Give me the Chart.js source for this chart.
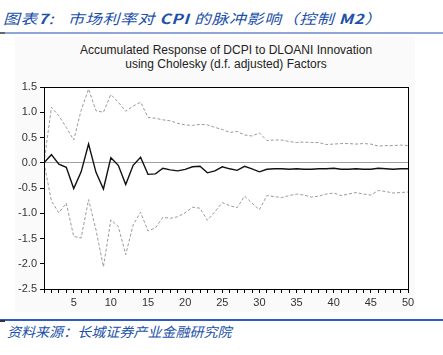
<!DOCTYPE html>
<html><head><meta charset="utf-8">
<script src="https://cdn.jsdelivr.net/npm/chart.js@4"></script>
<style>
html,body{margin:0;padding:0;background:#fff;width:443px;height:355px;overflow:hidden;}
#wrap{position:relative;width:443px;height:355px;}
canvas{position:absolute;left:0;top:0;}
.t{position:absolute;font-family:"Noto Sans CJK SC",sans-serif;font-style:italic;color:#2150a8;white-space:nowrap;transform-origin:0 0;}
.ct{position:absolute;left:0;width:452px;text-align:center;font-family:"Liberation Sans",Arial,sans-serif;font-size:12px;color:#222;}
</style></head>
<body><div id="wrap">
<div style="position:absolute;left:15px;top:37px;width:400px;height:275px;background:#fafafa;"></div>
<div class="t" style="left:3px;top:8px;font-size:14px;letter-spacing:0.6px;transform:scaleX(1.2);">图表<b>7</b>:&nbsp;&nbsp; 市场利率对 <b>CPI</b> 的脉冲影响（控制 <b>M2</b>）</div>
<div style="position:absolute;left:0;top:32px;width:443px;height:2px;background:#8fa6d6;"></div>
<div style="position:absolute;left:0;top:32px;width:5px;height:2px;background:#666;"></div>
<div class="ct" style="top:43px;">Accumulated Response of DCPI to DLOANI Innovation</div>
<div class="ct" style="top:57px;">using Cholesky (d.f. adjusted) Factors</div>
<div style="position:absolute;left:0;top:319px;width:443px;height:2px;background:#2d5bbf;"></div>
<div style="position:absolute;left:0;top:320px;width:5px;height:2px;background:#333;"></div>
<div class="t" style="left:7px;top:321px;font-size:13.5px;transform:scaleX(1.04);">资料来源：长城证券产业金融研究院</div>
<canvas id="c" width="443" height="355"></canvas>
</div>
<script>
const periods = Array.from({length:50},(_,i)=>i+1);
const response = [0.00,0.16,-0.03,-0.09,-0.51,-0.18,0.37,-0.19,-0.52,0.10,-0.05,-0.43,-0.05,0.11,-0.23,-0.22,-0.11,-0.14,-0.16,-0.13,-0.08,-0.07,-0.20,-0.16,-0.08,-0.12,-0.15,-0.07,-0.12,-0.18,-0.13,-0.12,-0.12,-0.13,-0.12,-0.13,-0.13,-0.12,-0.12,-0.11,-0.13,-0.13,-0.12,-0.13,-0.13,-0.11,-0.12,-0.13,-0.12,-0.12];
const upperBand = [0.00,1.10,0.93,0.70,0.45,1.04,1.46,1.03,1.00,1.35,1.20,1.02,1.12,1.20,0.90,0.88,0.85,0.83,0.78,0.75,0.74,0.76,0.75,0.70,0.66,0.60,0.62,0.55,0.53,0.59,0.44,0.45,0.45,0.42,0.40,0.41,0.40,0.40,0.36,0.37,0.38,0.38,0.37,0.38,0.37,0.33,0.34,0.34,0.35,0.34];
const lowerBand = [0.00,-0.76,-0.99,-0.80,-1.46,-1.49,-0.73,-1.33,-2.06,-1.13,-1.26,-1.82,-1.23,-0.98,-1.35,-1.29,-1.08,-1.10,-1.07,-0.99,-0.88,-0.90,-1.14,-0.97,-0.79,-0.85,-0.89,-0.66,-0.80,-0.93,-0.65,-0.67,-0.69,-0.65,-0.62,-0.64,-0.68,-0.66,-0.62,-0.60,-0.65,-0.62,-0.59,-0.62,-0.64,-0.55,-0.57,-0.60,-0.59,-0.58];
const yTicks = [-2.5,-2.0,-1.5,-1.0,-0.5,0.0,0.5,1.0,1.5];
const xLabels = [5,10,15,20,25,30,35,40,45,50];

const frame = {id:'frame',
  beforeDraw(ch){const a=ch.chartArea,c=ch.ctx;c.save();c.fillStyle='#fff';c.fillRect(a.left,a.top,a.right-a.left,a.bottom-a.top);c.restore();},
  afterDatasetsDraw(ch){const a=ch.chartArea,c=ch.ctx;c.save();c.strokeStyle='#000';c.lineWidth=1;c.strokeRect(Math.round(a.left)+0.5,Math.round(a.top)+0.5,Math.round(a.right-a.left),Math.round(a.bottom-a.top));c.restore();}};

new Chart(document.getElementById('c'),{
  type:'line',
  data:{datasets:[
    {data:periods.map((p,i)=>({x:p,y:upperBand[i]})),borderColor:'#9a9a9a',borderWidth:1,borderDash:[3,2],pointRadius:0,tension:0},
    {data:periods.map((p,i)=>({x:p,y:lowerBand[i]})),borderColor:'#9a9a9a',borderWidth:1,borderDash:[3,2],pointRadius:0,tension:0},
    {data:periods.map((p,i)=>({x:p,y:response[i]})),borderColor:'#111',borderWidth:1.4,pointRadius:0,tension:0}
  ]},
  options:{
    responsive:false,animation:false,
    layout:{padding:{left:0,top:87,right:35,bottom:42}},
    plugins:{legend:{display:false},tooltip:{enabled:false}},
    scales:{
      x:{type:'linear',min:1,max:50,
        afterFit(s){s.height=24;},
        border:{display:true,color:'#000'},
        grid:{drawOnChartArea:false,drawTicks:true,tickLength:4,tickColor:'#000'},
        ticks:{stepSize:1,autoSkip:false,maxRotation:0,padding:3,color:'#333',font:{family:'Liberation Sans',size:11},
          callback:v=>xLabels.includes(v)?String(v):''}
      },
      y:{min:-2.5,max:1.5,
        afterFit(s){s.width=44;},
        afterBuildTicks(s){s.ticks=yTicks.map(v=>({value:v}));},
        border:{display:true,color:'#000'},
        grid:{drawTicks:true,tickLength:4,tickColor:'#000',
          color:c=>c.tick&&c.tick.value===0?'#a0a0a0':'rgba(0,0,0,0)',lineWidth:1},
        ticks:{padding:3,color:'#333',font:{family:'Liberation Sans',size:11},callback:v=>v.toFixed(1)}
      }
    }
  },
  plugins:[frame]
});
</script>
</body></html>
